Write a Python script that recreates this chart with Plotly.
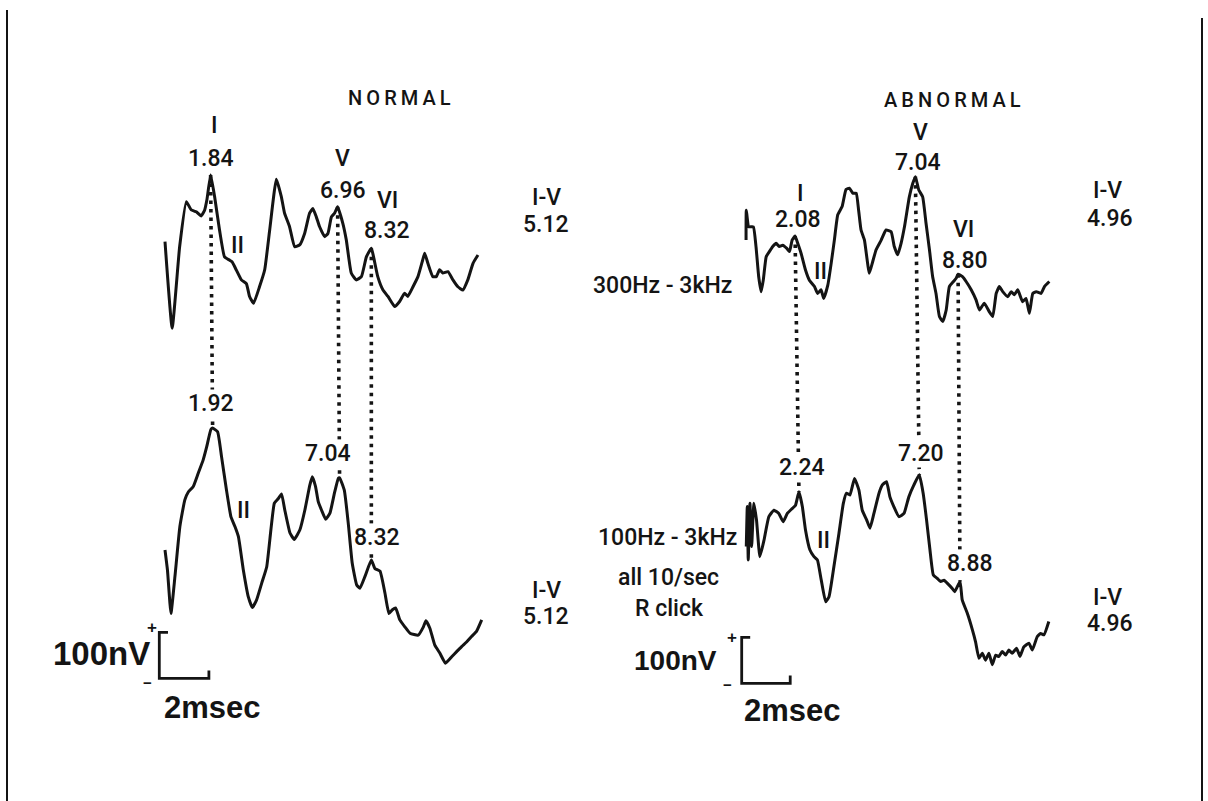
import plotly.graph_objects as go

# ---------------- data (time in ms, amplitude in nV) ----------------
normal_top_t = [0.00, 0.29, 0.59, 0.86, 1.06, 1.26, 1.46, 1.60, 1.69, 1.84, 2.00, 2.20, 2.40, 2.60, 2.71,
                2.87, 3.08, 3.28, 3.41, 3.57, 3.81, 4.02, 4.22, 4.49, 4.69, 4.82, 5.02, 5.23, 5.43, 5.63,
                5.83, 5.96, 6.10, 6.23, 6.44, 6.57, 6.71, 6.84, 6.96, 7.17, 7.31, 7.51, 7.71, 7.92, 8.12,
                8.32, 8.41, 8.58, 8.79, 8.99, 9.26, 9.46, 9.66, 9.79, 10.00, 10.20, 10.37, 10.47, 10.60,
                10.80, 10.94, 11.07, 11.20, 11.41, 11.61, 11.81, 12.01, 12.21, 12.42, 12.62]
normal_top_nv = [0, -188, -11, 87, 69, 65, 56, 69, 91, 145, 98, 25, -33, -40, -44,
                 -61, -83, -91, -119, -134, -98, -61, 25, 136, 98, 62, 33, -11, -7, 18,
                 62, 72, 54, 33, 11, 18, 54, 62, 76, 40, 4, -68, -83, -76, -33,
                 -14, -33, -76, -105, -119, -141, -130, -112, -119, -98, -76, -44, -25, -47,
                 -76, -76, -61, -68, -65, -83, -98, -105, -83, -47, -29]

normal_bot_t = [0.00, 0.10, 0.24, 0.40, 0.60, 0.80, 0.94, 1.14, 1.34, 1.54, 1.68, 1.85, 1.92, 2.12, 2.28,
                2.48, 2.66, 2.82, 2.96, 3.16, 3.36, 3.52, 3.69, 3.90, 4.10, 4.27, 4.41, 4.57, 4.70, 4.83,
                5.04, 5.21, 5.44, 5.64, 5.84, 5.94, 6.07, 6.18, 6.31, 6.48, 6.65, 6.83, 6.99, 7.04, 7.23,
                7.39, 7.55, 7.73, 7.86, 8.06, 8.32, 8.46, 8.67, 8.87, 9.03, 9.17, 9.30, 9.47, 9.67, 9.88,
                10.21, 10.42, 10.52, 10.68, 10.88, 11.08, 11.31, 11.56, 11.76, 11.96, 12.16, 12.36, 12.56, 12.77]
normal_bot_nv = [0, -44, -138, -58, 51, 109, 126, 138, 167, 196, 224, 262, 265, 257, 203,
                 130, 72, 51, 29, -44, -102, -125, -109, -72, -37, 44, 102, 112, 122, 87,
                 37, 23, 44, 87, 141, 159, 138, 105, 87, 67, 80, 123, 156, 157, 130,
                 58, -29, -76, -83, -58, -22, -40, -46, -94, -138, -130, -126, -152, -167, -181,
                 -185, -167, -154, -170, -207, -224, -246, -232, -221, -210, -200, -188, -177, -152]

abn_top_t = [0.06, 0.07, 0.17, 0.36, 0.47, 0.58, 0.68, 0.77, 0.89, 1.02, 1.16, 1.30, 1.43, 1.57, 1.74,
             1.85, 1.96, 2.08, 2.19, 2.33, 2.51, 2.67, 2.88, 3.01, 3.15, 3.26, 3.43, 3.57, 3.70, 3.84,
             4.02, 4.18, 4.32, 4.46, 4.60, 4.70, 4.80, 4.94, 5.14, 5.28, 5.42, 5.63, 5.83, 6.04, 6.17,
             6.31, 6.45, 6.59, 6.79, 6.93, 7.04, 7.18, 7.34, 7.48, 7.62, 7.75, 7.89, 8.03, 8.17, 8.31,
             8.44, 8.61, 8.72, 8.80, 8.97, 9.13, 9.34, 9.54, 9.68, 9.88, 10.09, 10.23, 10.37, 10.50,
             10.64, 10.85, 10.99, 11.12, 11.26, 11.46, 11.60, 11.74, 11.88, 12.02, 12.22, 12.36, 12.56]
abn_top_nv = [-22, 43, 7, 7, -36, -101, -134, -109, -58, -47, -36, -29, -36, -33, -40,
              -47, -22, -13, -29, -51, -87, -109, -123, -138, -130, -149, -120, -72, -22, 33,
              51, 88, 91, 80, 80, 43, 0, -22, -94, -69, -43, -22, 0, -4, -36,
              -54, -29, 7, 72, 101, 116, 87, 72, 14, -43, -101, -138, -188, -199, -174,
              -123, -112, -105, -96, -101, -112, -130, -152, -174, -159, -178, -188, -138, -123,
              -134, -145, -134, -141, -130, -156, -149, -181, -138, -134, -138, -123, -112]

abn_bot_t = [0.07, 0.11, 0.15, 0.22, 0.29, 0.38, 0.49, 0.63, 0.80, 1.00, 1.21, 1.41, 1.59, 1.76, 1.97,
             2.10, 2.24, 2.38, 2.51, 2.69, 2.86, 3.00, 3.16, 3.34, 3.48, 3.68, 3.89, 4.07, 4.20, 4.34,
             4.53, 4.71, 4.85, 5.03, 5.17, 5.33, 5.54, 5.68, 5.85, 5.99, 6.15, 6.36, 6.57, 6.77, 6.98,
             7.20, 7.36, 7.50, 7.64, 7.78, 7.94, 8.08, 8.22, 8.36, 8.56, 8.66, 8.88, 8.97, 9.18, 9.39,
             9.52, 9.66, 9.80, 9.93, 10.07, 10.21, 10.35, 10.48, 10.62, 10.76, 10.89, 11.03, 11.21,
             11.35, 11.51, 11.72, 11.86, 12.06, 12.20, 12.34, 12.54]
abn_bot_nv = [-36, 51, -65, 58, -36, 58, 22, -58, -22, 29, 43, 36, 18, 36, 47,
              54, 83, 51, 0, -43, -58, -65, -109, -156, -145, -80, -7, 58, 80, 76,
              112, 87, 43, 22, 4, 36, 80, 98, 105, 72, 51, 29, 36, 72, 98,
              120, 80, 22, -43, -98, -105, -112, -109, -116, -127, -134, -112, -152, -181, -217,
              -243, -279, -268, -283, -268, -293, -272, -275, -264, -272, -261, -268, -257,
              -275, -254, -246, -261, -232, -225, -228, -199]

normal_top_peaks = [1.84, 6.96, 8.32]
normal_bot_peaks = [1.92, 7.04, 8.32]
abn_top_peaks = [2.08, 7.04, 8.80]
abn_bot_peaks = [2.24, 7.20, 8.88]
peak_names_top_normal = ["I", "V", "VI"]
peak_names_top_abn = ["I", "V", "VI"]
interpeak_normal = [5.12, 5.12]
interpeak_abn = [4.96, 4.96]
scale_nv = 100      # vertical calibration bar (nV)
scale_ms = 2        # horizontal calibration bar (ms)

# ---------------- layout constants ----------------
W, H = 1208, 801
PXN = 24.8          # px per ms, normal column
PXA = 24.26         # px per ms, abnormal column
PXV = 0.46          # px per nV
N_X0, A_X0 = 165.0, 744.6
N_BASE_BOT, N_BASE_TOP = 550.0, 241.7
A_BASE_BOT, A_BASE_TOP = 530.0, 230.0
N_OFF = (N_BASE_BOT - N_BASE_TOP) / PXV
A_OFF = (A_BASE_BOT - A_BASE_TOP) / PXV
SPLIT = 604.0

INK = "#141414"
LBL_FONT = "Roboto, DejaVu Sans, sans-serif"
BOLD_FONT = "Liberation Sans, Arial, Helvetica, sans-serif"


def amp_at(ts, vs, t):
    i = min(range(len(ts)), key=lambda k: abs(ts[k] - t))
    return vs[i]


fig = go.Figure()

# dotted connectors between corresponding peaks
def connectors(top_t, top_v, top_p, bot_t, bot_v, bot_p, off, xa, ya):
    xs, ys = [], []
    for pt, pb in zip(top_p, bot_p):
        xs += [pt, pb, None]
        ys += [amp_at(top_t, top_v, pt) + off, amp_at(bot_t, bot_v, pb), None]
    fig.add_trace(go.Scatter(x=xs, y=ys, mode="lines", xaxis=xa, yaxis=ya,
                             line=dict(color=INK, width=3.6, dash="3.5px,5px"),
                             hoverinfo="skip", showlegend=False))

connectors(normal_top_t, normal_top_nv, normal_top_peaks, normal_bot_t, normal_bot_nv, normal_bot_peaks,
           N_OFF, "x", "y")
connectors(abn_top_t, abn_top_nv, abn_top_peaks, abn_bot_t, abn_bot_nv, abn_bot_peaks,
           A_OFF, "x2", "y2")

# waveforms
for ts, vs, off, xa, ya in [
    (normal_top_t, normal_top_nv, N_OFF, "x", "y"),
    (normal_bot_t, normal_bot_nv, 0, "x", "y"),
    (abn_top_t, abn_top_nv, A_OFF, "x2", "y2"),
    (abn_bot_t, abn_bot_nv, 0, "x2", "y2"),
]:
    fig.add_trace(go.Scatter(x=ts, y=[v + off for v in vs], mode="lines", xaxis=xa, yaxis=ya,
                             line=dict(color=INK, width=3.0, shape="spline", smoothing=0.4),
                             hoverinfo="skip", showlegend=False))

# calibration bars (anchor corner = lower-left)
def calib(x0, y0, xa, ya):
    hook_t = 0.35
    tick_v = 17
    xs = [x0 + hook_t, x0, x0, x0 + scale_ms, x0 + scale_ms]
    ys = [y0 + scale_nv, y0 + scale_nv, y0, y0, y0 + tick_v]
    fig.add_trace(go.Scatter(x=xs, y=ys, mode="lines", xaxis=xa, yaxis=ya,
                             line=dict(color=INK, width=2.8), hoverinfo="skip", showlegend=False))

calib((159.3 - N_X0) / PXN, (N_BASE_BOT - 678.3) / PXV, "x", "y")
calib((741.7 - A_X0) / PXA, (A_BASE_BOT - 683.3) / PXV, "x2", "y2")

# ---------------- text ----------------
ann = []

def txt(s, x, y, size=23, font=LBL_FONT, mask=False, weight=500):
    d = dict(text=s, x=x / W, y=1 - y / H, xref="paper", yref="paper",
             xanchor="center", yanchor="middle", showarrow=False,
             font=dict(family=font, size=size, color=INK, weight=weight))
    if mask:
        d.update(bgcolor="white", borderpad=0)
    ann.append(d)

f2 = lambda v: f"{v:.2f}"
sp = "\u2009"

# normal column
txt(sp.join("NORMAL"), 399, 98, 20)
txt(peak_names_top_normal[0], 214, 126)
txt(f2(normal_top_peaks[0]), 211, 158)
txt("II", 237, 245)
txt(peak_names_top_normal[1], 342, 158)
txt(f2(normal_top_peaks[1]), 343, 190)
txt(peak_names_top_normal[2], 387, 201)
txt(f2(normal_top_peaks[2]), 387, 230)
txt("I-V", 546, 198)
txt(f2(interpeak_normal[0]), 546, 224)
txt(f2(normal_bot_peaks[0]), 211, 403, mask=True)
txt("II", 243, 510)
txt(f2(normal_bot_peaks[1]), 328, 453, mask=True)
txt(f2(normal_bot_peaks[2]), 377, 537, mask=True)
txt("I-V", 546, 590)
txt(f2(interpeak_normal[1]), 546, 616)

# abnormal column
txt(sp.join("ABNORMAL"), 952, 100, 20)
txt(peak_names_top_abn[0], 800, 193)
txt(f2(abn_top_peaks[0]), 798, 219)
txt("II", 820, 272)
txt(peak_names_top_abn[1], 920, 133)
txt(f2(abn_top_peaks[1]), 918, 162)
txt(peak_names_top_abn[2], 963, 229)
txt(f2(abn_top_peaks[2]), 965, 260)
txt("I-V", 1107, 190)
txt(f2(interpeak_abn[0]), 1110, 218)
txt("300Hz - 3kHz", 662, 285, 23)
txt(f2(abn_bot_peaks[0]), 802, 467, mask=True)
txt(f2(abn_bot_peaks[1]), 921, 453, mask=True)
txt(f2(abn_bot_peaks[2]), 970, 563, mask=True)
txt("II", 823, 540)
txt("100Hz - 3kHz", 667, 537, 23)
txt("all 10/sec", 668, 577, 23)
txt("R click", 669, 608, 23)
txt("I-V", 1107, 597)
txt(f2(interpeak_abn[1]), 1110, 623)

# calibration labels
txt(f"{scale_nv}nV", 101, 653, 33, BOLD_FONT, weight="bold")
txt("+", 152, 627, 17, BOLD_FONT, weight="bold")
txt("\u2212", 147, 682, 15, BOLD_FONT, weight="bold")
txt(f"{scale_ms}msec", 212, 707, 31, BOLD_FONT, weight="bold")
txt(f"{scale_nv}nV", 675, 660, 28, BOLD_FONT, weight="bold")
txt("+", 732, 637, 17, BOLD_FONT, weight="bold")
txt("\u2212", 727, 684, 15, BOLD_FONT, weight="bold")
txt(f"{scale_ms}msec", 792, 710, 31, BOLD_FONT, weight="bold")

# page frame lines
shapes = [
    dict(type="line", xref="paper", yref="paper", x0=7 / W, x1=7 / W, y0=1 - 10 / H, y1=0,
         line=dict(color=INK, width=2)),
    dict(type="line", xref="paper", yref="paper", x0=1202 / W, x1=1202 / W, y0=1 - 18 / H, y1=0,
         line=dict(color=INK, width=2)),
]

hidden = dict(visible=False, showgrid=False, zeroline=False, fixedrange=True)
fig.update_layout(
    width=W, height=H, margin=dict(l=0, r=0, t=0, b=0),
    paper_bgcolor="white", plot_bgcolor="rgba(0,0,0,0)",
    xaxis=dict(domain=[0, SPLIT / W], range=[-N_X0 / PXN, (SPLIT - N_X0) / PXN], anchor="y", **hidden),
    yaxis=dict(domain=[0, 1], range=[(N_BASE_BOT - H) / PXV, N_BASE_BOT / PXV], anchor="x", **hidden),
    xaxis2=dict(domain=[SPLIT / W, 1], range=[(SPLIT - A_X0) / PXA, (W - A_X0) / PXA], anchor="y2", **hidden),
    yaxis2=dict(domain=[0, 1], range=[(A_BASE_BOT - H) / PXV, A_BASE_BOT / PXV], anchor="x2", **hidden),
    annotations=ann, shapes=shapes, showlegend=False,
)

fig.write_html("out.html", config={"displayModeBar": False})
